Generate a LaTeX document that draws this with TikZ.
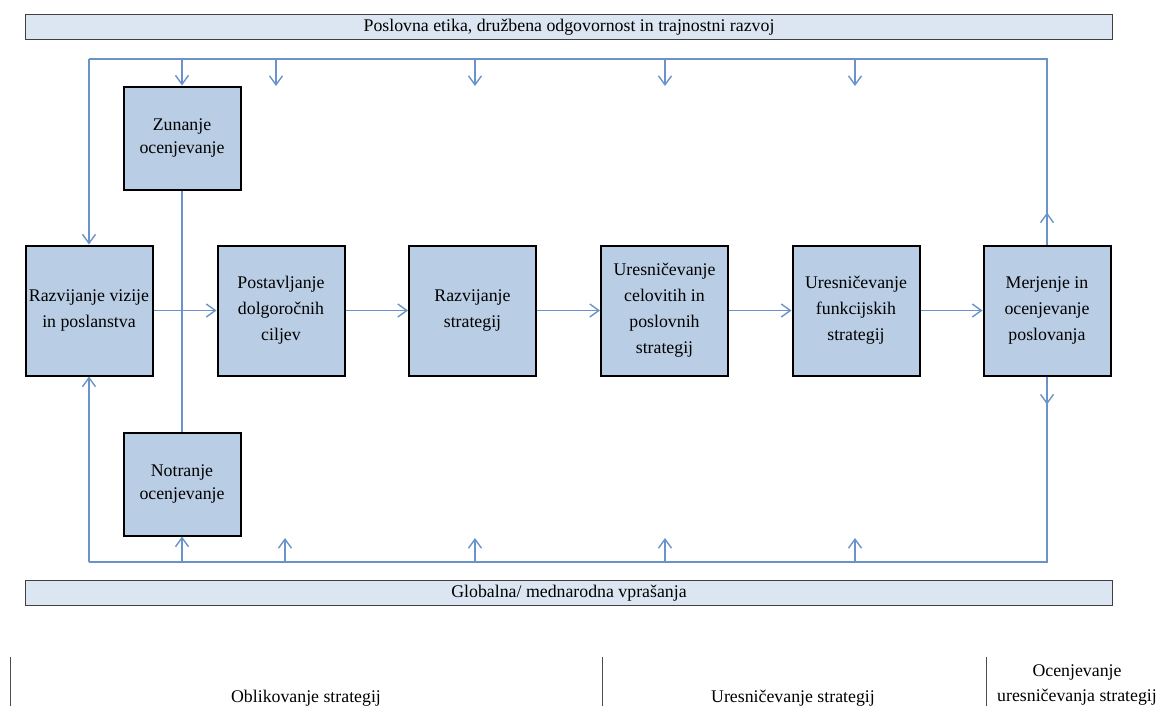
\documentclass[tikz,border=0pt]{standalone}
\usepackage{fontspec}
\setmainfont{Liberation Serif}
\usetikzlibrary{arrows.meta}
\definecolor{flow}{HTML}{6A93C9}
\definecolor{boxfill}{HTML}{B9CDE5}
\definecolor{bandfill}{HTML}{DCE6F2}
\begin{document}
\begin{tikzpicture}[x=1pt,y=-1pt,
  stage/.style={draw=black, line width=2pt, fill=boxfill, minimum width=127pt,
    minimum height=130pt, inner sep=0pt, align=center,
    font=\fontsize{17.8}{26}\selectfont},
  probe/.style={stage, minimum width=117pt, minimum height=103pt,
    font=\fontsize{17.8}{22.5}\selectfont},
  band/.style={draw=black!75, line width=1.2pt, fill=bandfill, minimum width=1087pt,
    minimum height=25pt, inner sep=0pt, font=\fontsize{17.8}{20}\selectfont},
  link/.style={draw=flow, line width=1.4pt},
  flowarrow/.style={link, -{Straight Barb[length=9pt,width=13pt,line width=1.4pt]}},
  phase/.style={inner sep=0pt, align=center, font=\fontsize{17.8}{25}\selectfont},
  divider/.style={draw=black!70, line width=1pt}]

\path[use as bounding box] (0,0) rectangle (1158,705);
\clip (0,0) rectangle (1158,705);

% framing bands
\node[band] (ethics) at (569,27) {Poslovna etika, družbena odgovornost in trajnostni razvoj};
\node[band] (global) at (569,593) {Globalna/ mednarodna vprašanja};

% main process chain
\node[stage] (vision) at (89,310.5) {Razvijanje vizije\\in poslanstva};
\node[stage] (goals)  at (281,310.5) {Postavljanje\\dolgoročnih\\ciljev};
\node[stage] (strat)  at (472.5,310.5) {Razvijanje\\strategij};
\node[stage] (corp)   at (664.5,310.5) {Uresničevanje\\celovitih in\\poslovnih\\strategij};
\node[stage] (func)   at (856,310.5) {Uresničevanje\\funkcijskih\\strategij};
\node[stage] (eval)   at (1047,310.5) {Merjenje in\\ocenjevanje\\poslovanja};

% environment scanning
\node[probe] (ext) at (182,138) {Zunanje\\ocenjevanje};
\node[probe] (int) at (182,484) {Notranje\\ocenjevanje};

% feedback loop levels
\coordinate (topy) at (0,59);
\coordinate (boty) at (0,562);

\draw[link] (ext.south) -- (int.north);

\draw[flowarrow] (vision) -- (goals);
\draw[flowarrow] (goals) -- (strat);
\draw[flowarrow] (strat) -- (corp);
\draw[flowarrow] (corp) -- (func);
\draw[flowarrow] (func) -- (eval);

% upper loop
\draw[link] (eval.north) -- (eval.north |- topy) -- (vision.north |- topy);
\draw[flowarrow] (vision.north |- topy) -- (vision.north);
\draw[flowarrow] (eval.north) -- ++(0,-32);
\draw[flowarrow] (ext.north |- topy) -- (ext.north);
\foreach \x [count=\i] in {276,475,665,855} {
  \coordinate (drop\i) at (\x,59);
  \draw[flowarrow] (drop\i) -- ++(0,27);
}

% lower loop
\draw[link] (eval.south) -- (eval.south |- boty) -- (vision.south |- boty);
\draw[flowarrow] (vision.south |- boty) -- (vision.south);
\draw[flowarrow] (eval.south) -- ++(0,28);
\draw[flowarrow] (int.south |- boty) -- (int.south);
\foreach \x [count=\i] in {285,475,665,855} {
  \coordinate (rise\i) at (\x,562);
  \draw[flowarrow] (rise\i) -- ++(0,-24);
}

% phase captions
\coordinate (d1) at (10,657);
\coordinate (d2) at (602,657);
\coordinate (d3) at (986,657);
\foreach \d in {d1,d2,d3} { \draw[divider] (\d) -- ++(0,60); }
\node[phase, anchor=base] (form) at (306,702) {Oblikovanje strategij};
\node[phase, anchor=base] (impl) at (793,702) {Uresničevanje strategij};
\node[phase] (assess) at (1077,685.5) {Ocenjevanje\\uresničevanja strategij};
\end{tikzpicture}
\end{document}
